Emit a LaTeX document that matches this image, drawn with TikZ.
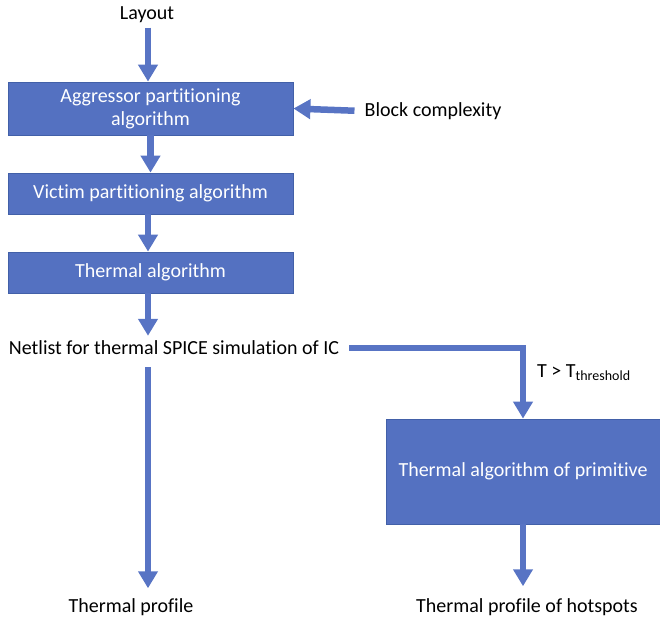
\documentclass[tikz,border=0pt]{standalone}
\usepackage{fontspec}
\setmainfont{Carlito}[Ligatures=NoCommon]
\usetikzlibrary{arrows.meta}
\definecolor{boxfill}{RGB}{84,113,193}
\definecolor{boxline}{RGB}{66,96,168}
\definecolor{arrowc}{RGB}{88,116,196}
\tikzset{
  box/.style={draw=boxline, line width=0.8pt, fill=boxfill, text=white, align=center, font=\fontsize{20}{23}\selectfont, inner sep=2pt},
  txt/.style={text=black, font=\fontsize{20}{23}\selectfont, inner sep=3pt},
  arr/.style={draw=arrowc, line width=6.5pt, -{Triangle[width=19pt,length=17pt]}},
}
\begin{document}
\begin{tikzpicture}[x=1pt,y=-1pt]
\useasboundingbox (0,0) rectangle (660,623);
\node[txt] (layout) at (147,14.5) {Layout};
\node[box, minimum width=285pt, minimum height=53pt] (agg) at (150.5,108.5) {Aggressor partitioning\\algorithm};
\node[box, minimum width=285pt, minimum height=41pt] (vict) at (150.5,193.5) {Victim partitioning algorithm};
\node[box, minimum width=285pt, minimum height=41pt] (therm) at (150.5,272.5) {Thermal algorithm};
\node[txt] (netlist) at (174,348) {Netlist for thermal SPICE simulation of IC};
\node[box, minimum width=274pt, minimum height=105pt] (prim) at (523,471.5) {Thermal algorithm of primitive};
\node[txt] (profile) at (131,607) {Thermal profile};
\node[txt] (hot) at (527,607) {Thermal profile of hotspots};
\node[txt] (block) at (433,111) {Block complexity};
\node[txt, anchor=west] (tlabel) at (534,373) {T > T\textsubscript{threshold}};

\draw[arr, shorten <=2pt] (layout.south -| 148,0) -- (agg.north -| 148,0);
\draw[arr] (agg.south) -- (vict.north);
\draw[arr] (vict.south -| 148,0) -- (therm.north -| 148,0);
\draw[arr, shorten >=2pt] (therm.south -| 148,0) -- (netlist.north -| 148,0);
\draw[arr, shorten <=9pt, shorten >=7pt] (netlist.south -| 148,0) -- (profile.north -| 148,0);
\draw[arr, shorten <=7pt] (netlist.east) -| (prim.north);
\draw[arr, shorten >=9pt] (prim.south) -- (prim.south |- hot.north);
\draw[arr, shorten <=7pt] (block.west) -- (agg.east);
\end{tikzpicture}
\end{document}
